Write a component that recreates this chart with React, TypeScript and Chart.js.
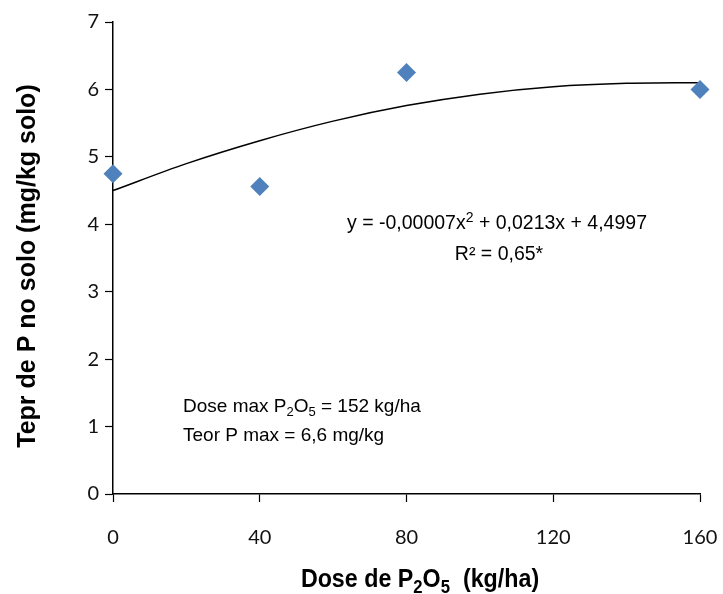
import React, { useEffect, useRef } from "react";
import { Chart, registerables } from "chart.js";

Chart.register(...registerables);

// Observed data
const doses = [0, 40, 80, 160];
const teorP = [4.75, 4.56, 6.25, 6.0];

// Trendline readings (quadratic fit shown on chart)
const trendX = [0, 20, 40, 60, 80, 100, 120, 140, 160];
const trendY = [4.5, 4.9, 5.24, 5.53, 5.76, 5.93, 6.04, 6.09, 6.1];

const xTicks = [0, 40, 80, 120, 160];
const yTicks = [0, 1, 2, 3, 4, 5, 6, 7];

type Seg = { t: string; sub?: boolean; sup?: boolean };

function drawRich(
  ctx: CanvasRenderingContext2D,
  segs: Seg[],
  x: number,
  y: number,
  size: number,
  family: string,
  weight: string,
  align: "left" | "center",
  scaleX = 1
) {
  const small = Math.round(size * 0.7);
  const fontFor = (s: Seg) => `${weight} ${s.sub || s.sup ? small : size}px ${family}`;
  let total = 0;
  const widths = segs.map((s) => {
    ctx.font = fontFor(s);
    const w = ctx.measureText(s.t).width;
    total += w;
    return w;
  });
  ctx.save();
  ctx.translate(x, y);
  ctx.scale(scaleX, 1);
  let cx = align === "center" ? -total / 2 : 0;
  ctx.textBaseline = "alphabetic";
  ctx.textAlign = "left";
  segs.forEach((s, i) => {
    ctx.font = fontFor(s);
    let dy = 0;
    if (s.sub) dy = size * 0.22;
    if (s.sup) dy = -size * 0.36;
    ctx.fillText(s.t, cx, dy);
    cx += widths[i];
  });
  ctx.restore();
}

const textPlugin = {
  id: "texts",
  afterDraw(chart: any) {
    const ctx = chart.ctx as CanvasRenderingContext2D;
    ctx.save();
    ctx.fillStyle = "#000";
    const arial = "'Liberation Sans', Arial, sans-serif";
    // equation
    drawRich(
      ctx,
      [{ t: "y = -0,00007x" }, { t: "2", sup: true }, { t: " + 0,0213x + 4,4997" }],
      347,
      229,
      19.5,
      arial,
      "normal",
      "left"
    );
    drawRich(ctx, [{ t: "R² = 0,65*" }], 499, 260, 19.5, arial, "normal", "center");
    // max info
    drawRich(
      ctx,
      [{ t: "Dose max P" }, { t: "2", sub: true }, { t: "O" }, { t: "5", sub: true }, { t: " = 152 kg/ha" }],
      183,
      412,
      19,
      arial,
      "normal",
      "left"
    );
    drawRich(ctx, [{ t: "Teor P max = 6,6 mg/kg" }], 183, 441, 19, arial, "normal", "left");
    // x title
    drawRich(
      ctx,
      [{ t: "Dose de P" }, { t: "2", sub: true }, { t: "O" }, { t: "5", sub: true }, { t: "  (kg/ha)" }],
      420,
      587,
      25,
      arial,
      "bold",
      "center",
      0.93
    );
    // y title
    ctx.translate(35, 266);
    ctx.rotate(-Math.PI / 2);
    drawRich(ctx, [{ t: "Tepr de P no solo (mg/kg solo)" }], 0, 0, 25, arial, "bold", "center");
    ctx.restore();
  },
};

export default function App() {
  const ref = useRef<HTMLCanvasElement>(null);
  useEffect(() => {
    if (!ref.current) return;
    const tickFont = { family: "Lato, 'Open Sans', sans-serif", size: 20 };
    const chart = new Chart(ref.current, {
      type: "scatter",
      data: {
        datasets: [
          {
            label: "Trend",
            data: trendX.map((x, i) => ({ x, y: trendY[i] })),
            showLine: true,
            borderColor: "#000",
            borderWidth: 1.5,
            pointRadius: 0,
            cubicInterpolationMode: "monotone",
            clip: false,
            order: 2,
          },
          {
            label: "Teor P",
            data: doses.map((x, i) => ({ x, y: teorP[i] })),
            pointStyle: "rectRot",
            pointRadius: 9.5,
            backgroundColor: "#4F81BD",
            borderColor: "#4F81BD",
            borderWidth: 0,
            clip: false,
            order: 1,
          },
        ],
      },
      options: {
        animation: false,
        responsive: false,
        layout: { padding: { left: 0, top: 22, right: 23, bottom: 0 } },
        plugins: { legend: { display: false }, tooltip: { enabled: false } },
        scales: {
          x: {
            type: "linear",
            min: 0,
            max: 160,
            afterBuildTicks: (s: any) => {
              s.ticks = xTicks.map((v) => ({ value: v }));
            },
            afterFit: (s: any) => {
              s.height = 100;
              s.paddingRight = 0;
              s.paddingLeft = 0;
            },
            grid: { drawOnChartArea: false, color: "#000", tickLength: 8, tickWidth: 1.2 },
            border: { color: "#000", width: 1.5 },
            ticks: { font: tickFont, color: "#111", padding: 24, maxRotation: 0 },
          },
          y: {
            type: "linear",
            min: 0,
            max: 7,
            afterBuildTicks: (s: any) => {
              s.ticks = yTicks.map((v) => ({ value: v }));
            },
            afterFit: (s: any) => {
              s.width = 113;
              s.paddingTop = 0;
              s.paddingBottom = 0;
            },
            grid: { drawOnChartArea: false, color: "#000", tickLength: 8, tickWidth: 1.2 },
            border: { color: "#000", width: 1.5 },
            ticks: { font: tickFont, color: "#111", padding: 6 },
          },
        },
      },
      plugins: [textPlugin],
    } as any);
    return () => chart.destroy();
  }, []);
  return (
    <div style={{ position: "fixed", left: 0, top: 0, width: 723, height: 594, background: "#fff" }}>
      <canvas ref={ref} width={723} height={594} style={{ width: 723, height: 594 }} />
    </div>
  );
}
